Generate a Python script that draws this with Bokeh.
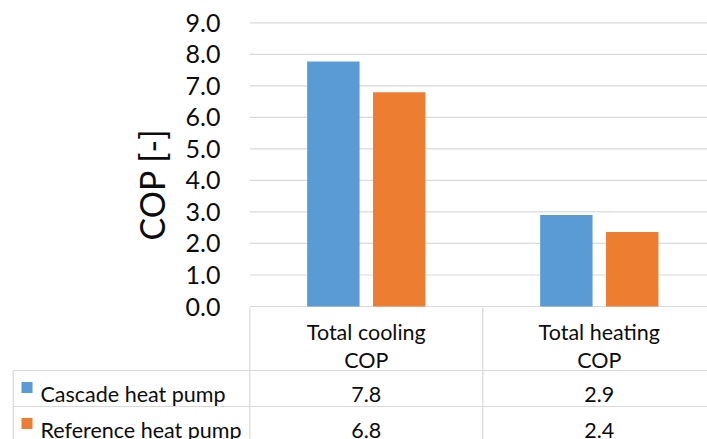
import numpy as np
from bokeh.plotting import figure
from bokeh.models import Range1d
from bokeh.core.properties import value
from bokeh.embed import file_html
from bokeh.resources import INLINE

# ---------------- data ----------------
categories = ["Total cooling\nCOP", "Total heating\nCOP"]
series_names = ["Cascade heat pump", "Reference heat pump"]
cascade_cop = [7.77, 2.90]
reference_cop = [6.80, 2.36]
series_values = [cascade_cop, reference_cop]
y_ticks = [0, 1, 2, 3, 4, 5, 6, 7, 8, 9]
y_tick_labels = ["0.0", "1.0", "2.0", "3.0", "4.0", "5.0", "6.0", "7.0", "8.0", "9.0"]
y_label = "COP [-]"

# ---------------- style / layout ----------------
colors = ["#5B9BD5", "#ED7D31"]
grid_color = "#D9D9D9"
text_color = "#0D0D0D"
FONT = value("Lato")
W, H = 707, 439
PAGE_L, PAGE_R, PAGE_T, PAGE_B = 0, 707, 0, 439
CAT_LEFT_PX, CAT_W_PX = 249.3, 233.0
ZERO_PX, UNIT_PX = 306.0, 31.52
BAR_W = 0.225
BAR_OFF = 0.1414

x_range = Range1d((PAGE_L - CAT_LEFT_PX) / CAT_W_PX, (PAGE_R - CAT_LEFT_PX) / CAT_W_PX)
y_range = Range1d((ZERO_PX - PAGE_B) / UNIT_PX, (ZERO_PX - PAGE_T) / UNIT_PX)

p = figure(width=W, height=H, x_range=x_range, y_range=y_range,
           output_backend="svg", toolbar_location=None,
           x_axis_location=None, y_axis_location=None,
           min_border=0, outline_line_color=None,
           background_fill_color="white", border_fill_color="white")
p.grid.visible = False
p.extra_x_ranges = {"px": Range1d(PAGE_L, PAGE_R)}
p.extra_y_ranges = {"px": Range1d(PAGE_B, PAGE_T)}

n = len(categories)
centers = np.arange(n) + 0.5

# gridlines
p.segment(x0=[0] * len(y_ticks), x1=[n] * len(y_ticks), y0=y_ticks, y1=y_ticks,
          line_color=grid_color, line_width=1.2)

# bars
offsets = [-BAR_OFF, BAR_OFF]
for vals, col, off in zip(series_values, colors, offsets):
    p.vbar(x=centers + off, top=vals, bottom=0, width=BAR_W,
           fill_color=col, line_color=None)

# y tick labels (right aligned)
p.text(x=[220] * len(y_ticks), y=y_ticks, text=y_tick_labels, x_range_name="px",
       text_align="right", text_baseline="middle", text_font=FONT,
       text_font_size="25px", text_color=text_color)

# y axis title
p.text(x=[151], y=[184], text=[y_label], angle=np.pi / 2,
       x_range_name="px", y_range_name="px",
       text_align="center", text_baseline="alphabetic", text_font=FONT,
       text_font_size="34px", text_color=text_color)

# ---------------- data table ----------------
TABLE_TOP = 307.0
HEAD_BOTTOM = 370.0
ROW_H = 36.0
TABLE_LEFT_PX = 12.7
row_tops = [HEAD_BOTTOM + i * ROW_H for i in range(len(series_names))]

# vertical lines at category boundaries
p.segment(x0=list(range(n + 1)), x1=list(range(n + 1)),
          y0=[TABLE_TOP] * (n + 1), y1=[PAGE_B + 5] * (n + 1),
          y_range_name="px", line_color=grid_color, line_width=1.2)
# left vertical line of legend column
p.segment(x0=[TABLE_LEFT_PX], x1=[TABLE_LEFT_PX], y0=[HEAD_BOTTOM], y1=[PAGE_B + 5],
          x_range_name="px", y_range_name="px", line_color=grid_color, line_width=1.2)
# horizontal row lines
p.segment(x0=[TABLE_LEFT_PX] * len(row_tops), x1=[PAGE_R + 5] * len(row_tops),
          y0=row_tops, y1=row_tops,
          x_range_name="px", y_range_name="px", line_color=grid_color, line_width=1.2)

# header (category labels, two lines)
line1 = [c.split("\n")[0] for c in categories]
line2 = [c.split("\n")[1] for c in categories]
p.text(x=centers, y=[331.5] * n, text=line1, y_range_name="px",
       text_align="center", text_baseline="alphabetic", text_font=FONT,
       text_font_size="21.5px", text_color=text_color)
p.text(x=centers, y=[359] * n, text=line2, y_range_name="px",
       text_align="center", text_baseline="alphabetic", text_font=FONT,
       text_font_size="21.5px", text_color=text_color)

# rows
for i, (name, vals, col) in enumerate(zip(series_names, series_values, colors)):
    top = row_tops[i]
    base = top + 23.6
    mid = base - 6.5
    p.scatter(x=[26.5], y=[mid], marker="square", size=11, fill_color=col,
              line_color=None, x_range_name="px", y_range_name="px")
    p.text(x=[40], y=[base], text=[name], x_range_name="px", y_range_name="px",
           text_align="left", text_baseline="alphabetic", text_font=FONT,
           text_font_size="21.5px", text_color=text_color)
    p.text(x=centers, y=[base] * n, text=["%.1f" % v for v in vals],
           y_range_name="px", text_align="center", text_baseline="alphabetic",
           text_font=FONT, text_font_size="21.5px", text_color=text_color)

open("out.html", "w").write(file_html(p, INLINE))
